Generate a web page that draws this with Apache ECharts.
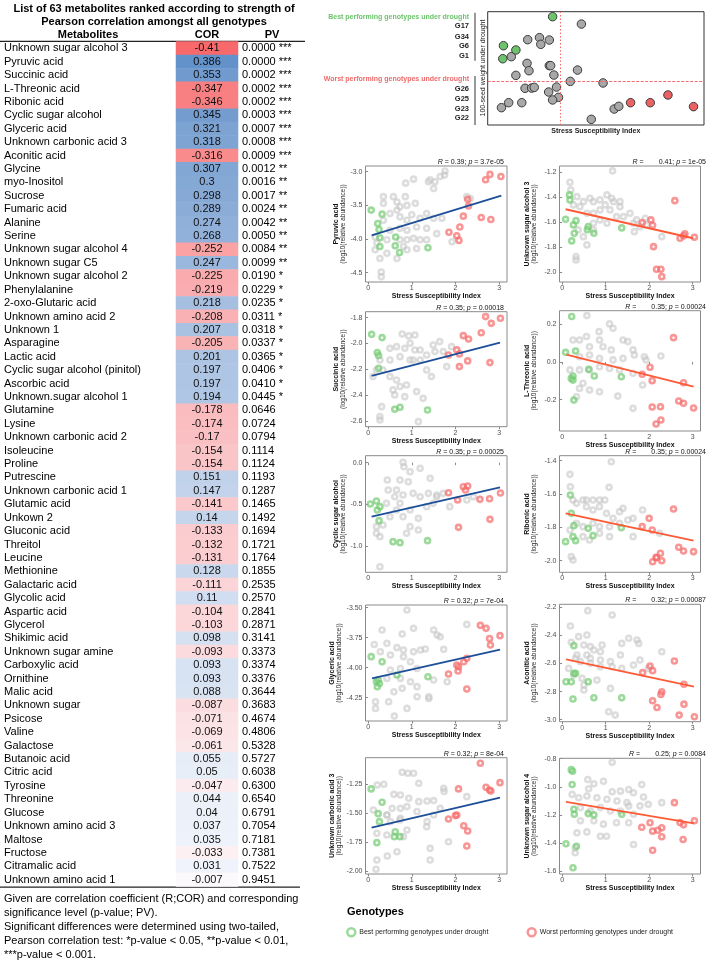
<!DOCTYPE html>
<html><head><meta charset="utf-8">
<script src="https://cdn.jsdelivr.net/npm/echarts@6/dist/echarts.min.js"></script>
<style>html,body{margin:0;padding:0;background:#fff}#c{width:709px;height:962px}</style>
</head><body><div id="c"></div>
<script>
// ---------------- TABLE DATA ----------------
const metabolites = ['Unknown sugar alcohol 3','Pyruvic acid','Succinic acid','L-Threonic acid','Ribonic acid','Cyclic sugar alcohol','Glyceric acid','Unknown carbonic acid 3','Aconitic acid','Glycine','myo-Inositol','Sucrose','Fumaric acid','Alanine','Serine','Unknown sugar alcohol 4','Unknown sugar C5','Unknown sugar alcohol 2','Phenylalanine','2-oxo-Glutaric acid','Unknown amino acid 2','Unknown 1','Asparagine','Lactic acid','Cyclic sugar alcohol (pinitol)','Ascorbic acid','Unknown.sugar alcohol 1','Glutamine','Lysine','Unknown carbonic acid 2','Isoleucine','Proline','Putrescine','Unknown carbonic acid 1','Glutamic acid','Unkown 2','Gluconic acid','Threitol','Leucine','Methionine','Galactaric acid','Glycolic acid','Aspartic acid','Glycerol','Shikimic acid','Unknown sugar amine','Carboxylic acid','Ornithine','Malic acid','Unknown sugar','Psicose','Valine','Galactose','Butanoic acid','Citric acid','Tyrosine','Threonine','Glucose','Unknown amino acid 3','Maltose','Fructose','Citramalic acid','Unknown amino acid 1'];
const corValues = [-0.41,0.386,0.353,-0.347,-0.346,0.345,0.321,0.318,-0.316,0.307,0.3,0.298,0.289,0.274,0.268,-0.252,0.247,-0.225,-0.219,0.218,-0.208,0.207,-0.205,0.201,0.197,0.197,0.194,-0.178,-0.174,-0.17,-0.154,-0.154,0.151,0.147,-0.141,0.14,-0.133,-0.132,-0.131,0.128,-0.111,0.11,-0.104,-0.103,0.098,-0.093,0.093,0.093,0.088,-0.087,-0.071,-0.069,-0.061,0.055,0.05,-0.047,0.044,0.04,0.037,0.035,-0.033,0.031,-0.007];
const pvValues = ['0.0000','0.0000','0.0002','0.0002','0.0002','0.0003','0.0007','0.0008','0.0009','0.0012','0.0016','0.0017','0.0024','0.0042','0.0050','0.0084','0.0099','0.0190','0.0229','0.0235','0.0311','0.0318','0.0337','0.0365','0.0406','0.0410','0.0445','0.0646','0.0724','0.0794','0.1114','0.1124','0.1193','0.1287','0.1465','0.1492','0.1694','0.1721','0.1764','0.1855','0.2535','0.2570','0.2841','0.2871','0.3141','0.3373','0.3374','0.3376','0.3644','0.3683','0.4674','0.4806','0.5328','0.5727','0.6038','0.6300','0.6540','0.6791','0.7054','0.7181','0.7381','0.7522','0.9451'];
const sigStars = ['***','***','***','***','***','***','***','***','***','**','**','**','**','**','**','**','**','*','*','*','*','*','*','*','*','*','*'];
const tableTitle = ['List of 63 metabolites ranked according to strength of','Pearson correlation amongst all genotypes'];
const tableHeaders = ['Metabolites','COR','PV'];
const footnotes = ['Given are correlation coefficient (R;COR) and corresponding','significance level (p-value; PV).','Significant differences were determined using two-tailed,','Pearson correlation test: *p-value < 0.05, **p-value < 0.01,','***p-value < 0.001.'];

// ---------------- TOP SCATTER (seed weight vs SSI) ----------------
const topGrey = [[1.43,89.1],[0.61,75.3],[0.79,77.1],[0.94,75.0],[0.81,71.2],[0.36,60.3],[0.60,54.4],[0.94,52.4],[0.96,52.4],[0.63,47.9],[1.37,48.5],[0.43,43.8],[1.01,44.1],[1.26,38.5],[1.76,37.1],[0.57,32.4],[0.67,32.6],[0.71,33.2],[1.05,33.5],[0.93,29.1],[1.08,24.4],[0.99,22.1],[0.21,15.3],[0.32,19.7],[0.52,19.7],[1.93,14.1],[2.00,16.5],[1.58,5.0]];
const topBest = [[0.99,95.6],[0.24,70.0],[0.43,66.2],[0.23,58.5]];
const topWorst = [[2.18,19.7],[2.48,19.7],[2.75,26.5],[3.14,16.2]];
const ssiCutoff = 1.114, seedCutoff = 38.2;
const bestLabels = ['G17','G34','G6','G1'];
const worstLabels = ['G26','G25','G23','G22'];

// ---------------- PANEL DATA ----------------
const pyruvicGrey = [[1.76,-2.99],[1.75,-3.05],[1.65,-3.07],[1.53,-3.15],[1.50,-3.25],[1.42,-3.12],[1.38,-3.15],[1.04,-3.11],[0.86,-3.17],[0.35,-3.37],[0.35,-3.47],[0.58,-3.37],[0.66,-3.45],[0.85,-3.37],[0.73,-3.52],[0.89,-3.50],[1.08,-3.47],[0.50,-3.62],[0.66,-3.57],[0.35,-3.72],[0.73,-3.67],[0.89,-3.72],[1.00,-3.64],[1.19,-3.69],[1.34,-3.62],[1.50,-3.69],[1.69,-3.69],[0.50,-3.87],[0.73,-3.84],[0.89,-3.87],[1.11,-3.82],[1.34,-3.84],[0.20,-4.06],[0.43,-4.01],[0.73,-4.01],[0.89,-4.01],[1.04,-3.99],[1.19,-4.01],[1.34,-4.01],[0.81,-4.11],[1.11,-4.14],[0.43,-4.21],[0.66,-4.29],[0.27,-4.29],[0.30,-4.49],[0.30,-4.56],[1.92,-4.04],[2.26,-3.37],[2.34,-3.40],[0.16,-4.16],[0.16,-3.97],[0.89,-4.16],[1.57,-3.92]];
const pyruvicBest = [[0.07,-3.57],[0.32,-3.63],[0.22,-3.77],[0.25,-3.86],[0.27,-3.98],[0.27,-4.11],[0.63,-3.97],[0.62,-4.10],[0.72,-4.20],[1.37,-4.13]];
const pyruvicWorst = [[2.79,-3.04],[2.69,-3.12],[3.04,-3.07],[2.28,-3.41],[2.30,-3.51],[2.18,-3.66],[2.59,-3.68],[2.81,-3.71],[2.10,-3.82],[1.85,-3.90],[2.03,-3.95],[2.08,-4.02]];
const pyruvicFit = [[0.08,-3.946],[3.05,-3.356]];

const usa3Grey = [[1.16,-1.189],[0.18,-1.28],[0.20,-1.341],[0.34,-1.395],[0.49,-1.435],[0.64,-1.408],[0.72,-1.435],[0.87,-1.421],[0.99,-1.461],[1.14,-1.408],[1.18,-1.435],[1.33,-1.475],[1.56,-1.528],[1.71,-1.581],[1.91,-1.568],[1.94,-1.621],[2.29,-1.715],[1.64,-1.608],[1.41,-1.555],[1.10,-1.501],[0.87,-1.501],[0.72,-1.528],[0.57,-1.528],[0.41,-1.475],[0.26,-1.461],[0.87,-1.581],[1.03,-1.608],[1.25,-1.555],[0.72,-1.608],[0.37,-1.661],[0.72,-1.661],[0.49,-1.715],[0.57,-1.781],[0.32,-1.875],[0.32,-1.901],[1.66,-1.675],[1.79,-1.635],[1.03,-1.381],[1.33,-1.435]];
const usa3Best = [[0.08,-1.576],[0.32,-1.587],[0.26,-1.621],[0.28,-1.688],[0.22,-1.749],[0.17,-1.381],[0.18,-1.421],[0.60,-1.635],[0.73,-1.688],[1.37,-1.645],[0.58,-1.659]];
const usa3Worst = [[2.59,-1.427],[2.04,-1.581],[2.08,-1.624],[1.84,-1.603],[2.10,-1.795],[2.71,-1.728],[2.79,-1.709],[2.82,-1.693],[3.04,-1.72],[2.17,-1.976],[2.27,-1.976],[2.29,-2.035]];
const usa3Fit = [[0.08,-1.496],[3.01,-1.728]];

const succinicGrey = [[0.78,-1.926],[0.93,-1.941],[1.07,-1.934],[0.65,-2.024],[0.50,-2.037],[0.84,-2.037],[0.96,-1.998],[1.07,-2.050],[1.19,-2.050],[1.34,-2.088],[1.49,-2.011],[1.64,-1.985],[1.53,-2.062],[1.72,-2.062],[1.91,-2.024],[1.80,-2.178],[1.45,-2.255],[1.34,-2.204],[1.19,-2.127],[0.96,-2.127],[0.73,-2.101],[0.50,-2.127],[0.27,-2.127],[0.19,-2.204],[0.34,-2.204],[0.50,-2.255],[0.65,-2.281],[0.57,-2.358],[0.61,-2.397],[0.73,-2.332],[0.88,-2.320],[0.84,-2.410],[1.11,-2.371],[1.26,-2.423],[1.03,-2.127],[0.31,-2.487],[0.27,-2.564],[0.27,-2.590],[1.15,-2.603],[0.11,-2.255]];
const succinicBest = [[0.08,-1.929],[0.32,-1.954],[0.21,-2.070],[0.24,-2.093],[0.24,-2.191],[0.61,-2.507],[0.73,-2.492],[1.36,-2.513]];
const succinicWorst = [[2.69,-1.792],[2.82,-1.844],[3.03,-1.805],[2.59,-1.916],[2.18,-1.939],[2.30,-1.965],[2.03,-2.049],[2.09,-2.080],[2.09,-2.178],[2.28,-2.134],[2.79,-2.147],[1.84,-2.088]];
const succinicFit = [[0.08,-2.25],[3.02,-1.993]];

const threonicGrey = [[0.57,0.246],[1.09,0.202],[1.17,0.179],[0.85,0.161],[0.86,0.117],[0.56,0.135],[0.40,0.117],[0.25,0.117],[0.63,0.081],[0.94,0.081],[1.13,0.064],[1.40,0.117],[1.51,0.108],[1.66,0.037],[1.89,0.028],[1.93,0.011],[2.27,0.032],[1.63,0.064],[1.40,0.019],[1.17,0.011],[0.86,0.019],[0.63,0.037],[0.40,0.028],[0.18,-0.042],[0.40,-0.042],[0.63,-0.042],[0.86,-0.025],[1.09,-0.034],[1.32,-0.042],[1.63,-0.060],[1.85,-0.122],[1.63,-0.246],[1.28,-0.181],[0.86,-0.158],[0.63,-0.149],[0.40,-0.140],[0.33,-0.184],[0.48,-0.113]];
const threonicBest = [[0.22,0.241],[0.08,0.051],[0.31,0.058],[0.25,-0.096],[0.21,-0.087],[0.25,-0.074],[0.61,-0.039],[0.74,-0.074],[1.36,-0.078],[0.27,-0.202]];
const threonicWorst = [[2.56,0.129],[2.02,-0.028],[2.07,-0.099],[1.84,-0.065],[2.79,-0.110],[2.07,-0.239],[2.26,-0.237],[2.68,-0.207],[2.79,-0.219],[3.02,-0.244],[2.27,-0.308],[2.16,-0.329]];
const threonicFit = [[0.10,0.039],[3.02,-0.131]];

const cyclicGrey = [[0.80,0.004],[0.82,-0.048],[0.96,-0.108],[1.19,-0.068],[1.42,-0.188],[0.92,-0.228],[0.73,-0.208],[0.44,-0.208],[0.46,-0.328],[0.65,-0.328],[0.80,-0.388],[1.03,-0.368],[1.19,-0.408],[1.38,-0.368],[1.57,-0.388],[1.72,-0.368],[1.87,-0.528],[1.57,-0.408],[0.73,-0.488],[0.65,-0.568],[0.80,-0.648],[0.96,-0.568],[1.15,-0.668],[1.34,-0.528],[0.50,-0.648],[0.34,-0.748],[0.19,-0.848],[0.96,-0.768],[0.88,-0.848],[1.15,-0.808],[0.61,-0.408],[0.42,-0.488],[0.19,-0.768],[1.49,-0.488],[2.26,-0.448],[2.41,-0.408],[0.27,-0.888],[0.27,-1.25]];
const cyclicBest = [[0.05,-0.496],[0.19,-0.46],[0.27,-0.528],[0.21,-0.568],[0.25,-0.696],[0.57,-0.948],[0.73,-0.96],[1.36,-0.936]];
const cyclicWorst = [[2.18,-0.288],[2.28,-0.280],[2.23,-0.328],[2.05,-0.448],[2.07,-0.776],[2.56,-0.440],[2.78,-0.432],[3.03,-0.364],[2.79,-0.68],[1.84,-0.36]];
const cyclicFit = [[0.08,-0.648],[3.02,-0.296]];

const ribonicGrey = [[1.13,-1.406],[1.08,-1.56],[0.18,-1.482],[0.19,-1.556],[0.25,-1.636],[0.33,-1.656],[0.48,-1.636],[0.56,-1.636],[0.71,-1.636],[0.86,-1.636],[0.98,-1.636],[0.56,-1.676],[0.71,-1.696],[0.86,-1.676],[1.02,-1.716],[1.17,-1.746],[1.32,-1.706],[1.40,-1.686],[1.51,-1.756],[1.63,-1.746],[1.85,-1.696],[2.24,-1.836],[1.63,-1.856],[1.32,-1.776],[1.09,-1.796],[0.86,-1.796],[0.71,-1.776],[0.48,-1.796],[0.33,-1.776],[0.18,-1.816],[0.48,-1.856],[0.63,-1.876],[0.86,-1.836],[1.09,-1.856],[0.25,-1.996],[0.21,-1.976]];
const ribonicBest = [[0.19,-1.606],[0.21,-1.716],[0.27,-1.79],[0.25,-1.856],[0.31,-1.88],[0.08,-1.886],[0.60,-1.806],[0.71,-1.85],[1.36,-1.802]];
const ribonicWorst = [[2.56,-1.69],[2.00,-1.746],[2.07,-1.816],[1.84,-1.796],[2.68,-1.92],[2.79,-1.942],[3.02,-1.946],[2.26,-1.956],[2.16,-1.98],[2.08,-2.007],[2.17,-1.983],[2.29,-2.001]];
const ribonicFit = [[0.08,-1.716],[3.02,-1.88]];

const glycericGrey = [[0.89,-3.519],[1.04,-3.672],[0.78,-3.719],[0.32,-3.686],[0.14,-3.806],[0.43,-3.797],[0.66,-3.833],[0.81,-3.853],[0.28,-3.867],[0.51,-3.894],[0.81,-3.908],[1.04,-3.867],[1.20,-3.853],[1.31,-3.844],[1.73,-3.847],[1.58,-3.728],[1.50,-3.686],[1.65,-3.742],[2.26,-3.639],[0.97,-3.95],[1.12,-4.006],[0.74,-4.006],[0.51,-4.019],[0.43,-4.089],[0.74,-4.089],[0.97,-4.117],[1.12,-4.158],[0.78,-4.172],[0.59,-4.2],[0.47,-4.283],[0.17,-4.283],[0.17,-4.339],[0.60,-4.403],[0.89,-4.339],[1.39,-4.242],[1.39,-4.256],[1.12,-4.242],[1.50,-4.103],[1.81,-4.117]];
const glycericBest = [[0.07,-3.908],[0.32,-3.95],[0.23,-4.103],[0.19,-4.117],[0.26,-4.131],[0.21,-4.158],[0.66,-4.061],[1.37,-4.075]];
const glycericWorst = [[2.57,-3.647],[2.70,-3.672],[2.78,-3.756],[2.80,-3.811],[3.02,-3.733],[2.26,-3.922],[2.19,-3.95],[2.03,-3.978],[2.06,-4.028],[1.84,-4.053],[2.26,-4.178],[2.07,-3.992]];
const glycericFit = [[0.09,-4.089],[3.02,-3.85]];

const aconiticGrey = [[0.59,-2.224],[1.15,-2.255],[0.19,-2.333],[0.21,-2.449],[0.38,-2.409],[0.57,-2.397],[0.50,-2.468],[0.65,-2.48],[0.73,-2.504],[0.92,-2.468],[0.88,-2.516],[0.57,-2.54],[0.34,-2.54],[0.31,-2.563],[0.65,-2.563],[0.88,-2.575],[1.11,-2.587],[1.34,-2.54],[1.37,-2.457],[1.53,-2.421],[1.72,-2.433],[1.76,-2.457],[1.79,-2.575],[1.64,-2.611],[1.37,-2.635],[1.15,-2.623],[0.88,-2.623],[0.65,-2.599],[0.42,-2.587],[0.15,-2.635],[0.27,-2.682],[0.46,-2.706],[0.50,-2.753],[0.50,-2.789],[0.80,-2.718],[1.11,-2.777],[1.07,-2.943],[1.22,-2.967],[2.29,-2.516],[1.98,-2.635]];
const aconiticBest = [[0.27,-2.473],[0.09,-2.73],[0.21,-2.73],[0.27,-2.67],[0.31,-2.67],[0.60,-2.73],[0.73,-2.844],[1.37,-2.844],[0.25,-2.853]];
const aconiticWorst = [[2.58,-2.582],[2.02,-2.618],[2.08,-2.651],[1.85,-2.665],[2.80,-2.748],[2.29,-2.801],[2.27,-2.82],[2.08,-2.865],[2.18,-2.913],[2.80,-2.889],[2.69,-2.967],[3.04,-2.979]];
const aconiticFit = [[0.09,-2.571],[3.03,-2.765]];

const uca3Grey = [[0.78,-1.146],[0.91,-1.155],[1.04,-1.155],[1.16,-1.241],[0.36,-1.25],[0.21,-1.256],[0.59,-1.337],[0.74,-1.342],[0.93,-1.371],[1.16,-1.4],[1.35,-1.394],[1.50,-1.391],[1.73,-1.285],[1.74,-1.313],[2.26,-1.357],[0.55,-1.458],[0.74,-1.458],[0.89,-1.443],[1.12,-1.486],[0.43,-1.515],[0.51,-1.573],[0.74,-1.544],[1.50,-1.515],[1.65,-1.458],[1.35,-1.573],[0.12,-1.472],[0.43,-1.516],[0.73,-1.559],[0.89,-1.645],[0.81,-1.703],[1.34,-1.617],[1.42,-1.804],[1.42,-1.905],[0.20,-1.905],[0.18,-1.985],[0.44,-1.87],[0.66,-1.833],[1.84,-1.747],[0.20,-1.674],[0.43,-1.689]];
const uca3Best = [[0.07,-1.29],[0.32,-1.406],[0.23,-1.504],[0.26,-1.573],[0.20,-1.755],[0.62,-1.66],[0.73,-1.703],[0.60,-1.703]];
const uca3Worst = [[2.57,-1.068],[2.70,-1.276],[2.78,-1.299],[2.81,-1.308],[3.02,-1.236],[2.07,-1.29],[2.03,-1.515],[2.00,-1.521],[1.84,-1.55],[2.19,-1.608],[2.28,-1.654],[2.26,-1.784]];
const uca3Fit = [[0.08,-1.625],[3.02,-1.365]];

const usa4Grey = [[1.15,-0.826],[0.59,-0.948],[0.73,-0.979],[0.61,-1.014],[0.95,-0.96],[1.15,-1.035],[1.34,-1.031],[1.53,-1.019],[1.64,-1.042],[1.83,-0.984],[1.87,-1.073],[1.79,-1.136],[1.49,-1.113],[1.26,-1.101],[1.03,-1.089],[0.80,-1.078],[0.57,-1.066],[0.38,-1.078],[0.23,-1.054],[0.42,-1.148],[0.65,-1.172],[0.88,-1.148],[1.11,-1.172],[1.34,-1.172],[1.64,-1.195],[1.53,-1.136],[1.98,-1.125],[2.29,-1.113],[0.42,-1.242],[0.73,-1.242],[0.95,-1.266],[0.34,-1.328],[0.57,-1.321],[0.88,-1.352],[1.02,-1.352],[1.64,-1.411],[0.30,-1.47],[0.30,-1.434],[1.53,-1.256],[1.25,-1.256]];
const usa4Best = [[0.21,-0.878],[0.24,-0.889],[0.23,-0.984],[0.27,-1.16],[0.28,-1.195],[0.60,-1.191],[0.73,-1.2],[1.37,-1.195],[0.09,-1.406],[0.33,-1.423],[0.25,-1.577]];
const usa4Worst = [[2.58,-1.113],[2.71,-1.254],[2.79,-1.271],[3.04,-1.242],[1.83,-1.288],[2.02,-1.256],[2.08,-1.316],[2.29,-1.292],[2.29,-1.356],[2.08,-1.452],[2.78,-1.375],[2.20,-1.309]];
const usa4Fit = [[0.09,-1.108],[3.03,-1.261]];

const panelNames = ['Pyruvic acid','Unknown sugar alcohol 3','Succinic acid','L-Threonic acid','Cyclic sugar alcohol','Ribonic acid','Glyceric acid','Aconitic acid','Unknown carbonic acid 3','Unknown sugar alcohol 4'];
const panelR = ['0.39','0.41','0.35','0.35','0.35','0.35','0.32','0.32','0.32','0.25'];
const panelP = ['3.7e-05','1e-05','0.00018','0.00024','0.00025','0.00024','7e-04','0.00087','8e-04','0.0084'];
const panelNegative = [false,true,false,true,false,true,false,true,false,true];
const panelYRange = [[-4.638,-2.915],[-2.078,-1.15],[-2.642,-1.754],[-0.366,0.272],[-1.316,0.084],[-2.07,-1.37],[-4.444,-3.4775],[-3.014,-2.179],[-2.026,-1.02],[-1.621,-0.797]];
const panelYTicks = [[-3,-3.5,-4,-4.5],[-1.2,-1.4,-1.6,-1.8,-2.0],[-1.8,-2.0,-2.2,-2.4,-2.6],[0.2,0,-0.2],[0,-0.5,-1.0],[-1.4,-1.6,-1.8,-2.0],[-3.5,-3.75,-4.0,-4.25],[-2.2,-2.4,-2.6,-2.8,-3.0],[-1.25,-1.5,-1.75,-2.0],[-0.8,-1.0,-1.2,-1.4,-1.6]];
const panelYDecimals = [1,1,1,1,1,1,2,1,2,1];
const ssiTicks = [0,1,2,3];
const panelGrey = [pyruvicGrey,usa3Grey,succinicGrey,threonicGrey,cyclicGrey,ribonicGrey,glycericGrey,aconiticGrey,uca3Grey,usa4Grey];
const panelBest = [pyruvicBest,usa3Best,succinicBest,threonicBest,cyclicBest,ribonicBest,glycericBest,aconiticBest,uca3Best,usa4Best];
const panelWorst = [pyruvicWorst,usa3Worst,succinicWorst,threonicWorst,cyclicWorst,ribonicWorst,glycericWorst,aconiticWorst,uca3Worst,usa4Worst];
const panelFit = [pyruvicFit,usa3Fit,succinicFit,threonicFit,cyclicFit,ribonicFit,glycericFit,aconiticFit,uca3Fit,usa4Fit];

// ---------------- LAYOUT / STYLE ----------------
const FONT = '"Liberation Sans", Arial, Helvetica, sans-serif';
const BEST = 'Best performing genotypes under drought';
const WORST = 'Worst performing genotypes under drought';
const GREEN = 'rgba(118,204,118,0.9)';
const RED = 'rgba(245,108,108,0.9)';
const GREY = 'rgba(196,196,196,0.72)';
const panelBoxes = [[365.5,166,141.5,116],[559.5,166,141,116],[365.5,311.7,141.5,115],[559.5,310.7,141,120.3],[365.5,455.7,141.5,116.6],[559.5,455.7,141,116.6],[365.5,605,141.5,116],[559.5,604.3,141,117.4],[365.5,757.7,141.5,116.3],[559.5,758.3,141,115.7]];
const rowTop = 41.6, rowH = 13.41;

const chart = echarts.init(document.getElementById('c'), null, {renderer:'canvas'});
const grid = [], xAxis = [], yAxis = [], series = [], graphic = [];

function T(x, y, text, o) {
  return {type:'text', x:x, y:y, silent:true, style:Object.assign({text:text, fill:'#000', fontSize:11, fontFamily:FONT, align:'left', verticalAlign:'middle'}, o || {})};
}
function L(x1, y1, x2, y2, color, w) {
  return {type:'line', silent:true, shape:{x1:x1,y1:y1,x2:x2,y2:y2}, style:{stroke:color, lineWidth:w}};
}

// heatmap first -> seriesIndex 0
series.push({
  type:'heatmap', xAxisIndex:1, yAxisIndex:1,
  data: corValues.map((v,i)=>[0,i,v]),
  label:{show:true, formatter:p=>String(p.value[2]), fontSize:11, color:'#111', fontFamily:FONT},
  itemStyle:{borderWidth:0}, emphasis:{disabled:true}
});

// ---- top scatter grid 0
grid.push({left:487.7, top:11.7, width:216.3, height:113.3, show:true, borderColor:'#333', borderWidth:1});
xAxis.push({type:'value', gridIndex:0, min:0, max:3.3, axisLine:{show:false}, axisTick:{show:false}, axisLabel:{show:false}, splitLine:{show:false},
  name:'Stress Susceptibility Index', nameLocation:'middle', nameGap:3, nameTextStyle:{fontSize:7, fontWeight:'bold', color:'#222', fontFamily:FONT}});
yAxis.push({type:'value', gridIndex:0, min:0, max:100, axisLine:{show:false}, axisTick:{show:false}, axisLabel:{show:false}, splitLine:{show:false}});
const bubble = (name, data, fill) => ({type:'scatter', name:name, xAxisIndex:0, yAxisIndex:0, data:data, symbolSize:8.5, silent:true,
  itemStyle:{color:fill, borderColor:'#3a3a3a', borderWidth:1, opacity:1}});
const topG = bubble('topGrey', topGrey, '#a8a8a8');
topG.markLine = {silent:true, symbol:'none', label:{show:false}, animation:false,
  data:[{xAxis:ssiCutoff, lineStyle:{type:[1.5,2], color:'#f06b6b', width:1}}, {yAxis:seedCutoff, lineStyle:{type:[3,1.5], color:'#f06b6b', width:1}}]};
series.push(topG, bubble('topBest', topBest, '#6cc36c'), bubble('topWorst', topWorst, '#ec6262'));

// ---- table grid 1
grid.push({left:176, top:rowTop, width:62, height:rowH*63});
xAxis.push({type:'category', gridIndex:1, data:['COR'], show:false});
yAxis.push({type:'category', gridIndex:1, data:metabolites, inverse:true, axisLine:{show:false}, axisTick:{show:false}, splitLine:{show:false},
  axisLabel:{interval:0, align:'left', margin:172, fontSize:11, color:'#000', fontFamily:FONT}});
yAxis.push({type:'category', gridIndex:1, position:'right', data:pvValues.map((p,i)=>p + (sigStars[i] ? ' ' + sigStars[i] : '')), inverse:true,
  axisLine:{show:false}, axisTick:{show:false}, splitLine:{show:false},
  axisLabel:{interval:0, align:'left', margin:4, fontSize:11, color:'#000', fontFamily:FONT}});

// table texts
graphic.push(T(154, 8.5, tableTitle[0], {fontWeight:'bold', align:'center'}));
graphic.push(T(154, 22, tableTitle[1], {fontWeight:'bold', align:'center'}));
graphic.push(T(88, 34.5, tableHeaders[0], {fontWeight:'bold', align:'center'}));
graphic.push(T(207, 34.5, tableHeaders[1], {fontWeight:'bold', align:'center'}));
graphic.push(T(272, 34.5, tableHeaders[2], {fontWeight:'bold', align:'center'}));
graphic.push(L(0, 41.3, 305, 41.3, '#222', 1.3));
graphic.push(L(0, rowTop + rowH*63 + 0.6, 300, rowTop + rowH*63 + 0.6, '#222', 1.3));
footnotes.forEach((f,i)=>graphic.push(T(4, 899 + i*14, f, {fontSize:11})));

// top panel texts
graphic.push(T(469, 16.7, BEST, {fontWeight:'bold', fontSize:7, fill:'#6cc36c', align:'right'}));
graphic.push(T(469, 79.3, WORST, {fontWeight:'bold', fontSize:7, fill:'#ef6a6a', align:'right'}));
const bestY = [25.7, 36.7, 46, 55.7], worstY = [89.3, 99, 108.7, 118.3];
bestLabels.forEach((g,i)=>graphic.push(T(469, bestY[i], g, {fontWeight:'bold', fontSize:7.5, align:'right', fill:'#222'})));
worstLabels.forEach((g,i)=>graphic.push(T(469, worstY[i], g, {fontWeight:'bold', fontSize:7.5, align:'right', fill:'#222'})));
graphic.push(L(475, 12.7, 475, 60.7, '#555', 1.2));
graphic.push(L(475, 76, 475, 125, '#555', 1.2));
graphic.push({type:'text', x:483.5, y:68, rotation:Math.PI/2, silent:true,
  style:{text:'100-seed weight under drought', fontSize:7, fontFamily:FONT, fill:'#222', align:'center', verticalAlign:'middle'}});

// ---- panels
const ring = (name, data, xi, yi, color, z) => ({type:'scatter', name:name, xAxisIndex:xi, yAxisIndex:yi, data:data, symbol:'circle', symbolSize:5, silent:true, z:z,
  itemStyle:{color:'rgba(255,255,255,0)', borderColor:color, borderWidth:2.6}});
panelNames.forEach((nm,k)=>{
  const b = panelBoxes[k];
  const xi = k + 2, yi = k + 3, left = (k % 2 === 0);
  grid.push({left:b[0], top:b[1], width:b[2], height:b[3], show:true, borderColor:'#8a8a8a', borderWidth:1});
  xAxis.push({type:'value', gridIndex:k+2, min:-0.06, max:3.18, axisLine:{show:false}, splitLine:{show:false},
    axisTick:{show:true, length:2.5, lineStyle:{color:'#8a8a8a'}, customValues:ssiTicks},
    axisLabel:{customValues:ssiTicks, fontSize:7, color:'#4d4d4d', margin:2.5, fontFamily:FONT},
    name:'Stress Susceptibility Index', nameLocation:'middle', nameGap:9.5, nameTextStyle:{fontSize:7, fontWeight:'bold', color:'#111', fontFamily:FONT}});
  const dec = panelYDecimals[k];
  yAxis.push({type:'value', gridIndex:k+2, min:panelYRange[k][0], max:panelYRange[k][1], axisLine:{show:false}, splitLine:{show:false},
    axisTick:{show:true, length:2.5, lineStyle:{color:'#8a8a8a'}, customValues:panelYTicks[k]},
    axisLabel:{customValues:panelYTicks[k], fontSize:7, color:'#4d4d4d', margin:3, fontFamily:FONT, formatter:v=>Number(v).toFixed(dec)},
    name:'{b|' + nm + '}\n{s|(log10(relative abundance))}', nameLocation:'middle', nameRotate:90, nameGap: left ? 19 : 22,
    nameTextStyle:{fontFamily:FONT, rich:{b:{fontSize:7, fontWeight:'bold', color:'#111', lineHeight:7, fontFamily:FONT}, s:{fontSize:6.5, color:'#222', lineHeight:7, fontFamily:FONT}}}});
  series.push(ring('other', panelGrey[k], xi, yi, GREY, 2));
  series.push(ring(BEST, panelBest[k], xi, yi, GREEN, 3));
  series.push(ring(WORST, panelWorst[k], xi, yi, RED, 3));
  series.push({type:'line', xAxisIndex:xi, yAxisIndex:yi, data:panelFit[k], symbol:'none', silent:true, z:4,
    lineStyle:{color: panelNegative[k] ? '#ff5a36' : '#1d4f99', width:1.8}});
  const rx = left ? 504 : 706;
  const txt = '{i|R} =' + (panelNegative[k] ? '{g| }' : ' ') + panelR[k] + '; {i|p} = ' + panelP[k];
  graphic.push({type:'text', x:rx, y:b[1] - 4, silent:true,
    style:{text:txt, fontSize:7, fontFamily:FONT, fill:'#111', align:'right', verticalAlign:'middle',
      rich:{i:{fontStyle:'italic', fontSize:7, fontFamily:FONT, fill:'#111'}, g:{width:15, fontSize:7}}}});
});

// legend title
graphic.push(T(347, 912, 'Genotypes', {fontWeight:'bold', fontSize:11}));

chart.setOption({
  animation:false,
  textStyle:{fontFamily:FONT},
  grid:grid, xAxis:xAxis, yAxis:yAxis, series:series, graphic:graphic,
  visualMap:{type:'continuous', show:false, seriesIndex:0, dimension:2, min:-0.41, max:0.41, inRange:{color:['#f8696b','#fcfcff','#5a8ac6']}},
  legend:{left:341, top:922, itemWidth:8, itemHeight:8, itemGap:38, selectedMode:false, icon:'circle',
    textStyle:{fontSize:7, color:'#222', fontFamily:FONT, padding:[0,0,0,-1]},
    data:[{name:BEST, itemStyle:{color:'#fff', borderColor:GREEN, borderWidth:2.5}}, {name:WORST, itemStyle:{color:'#fff', borderColor:RED, borderWidth:2.5}}]}
});
</script>
</body></html>
